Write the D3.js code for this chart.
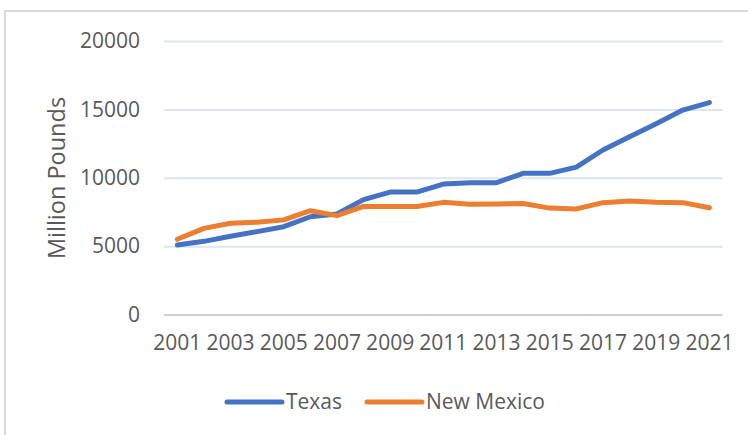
<!DOCTYPE html>
<html>
<head>
<meta charset="utf-8">
<script src="https://cdn.jsdelivr.net/npm/d3@7"></script>
<style>
  body { margin: 0; background: #fff; }
  svg { display: block; font-family: "Open Sans", sans-serif; }
</style>
</head>
<body>
<svg id="chart"></svg>
<script>
// Years on the category axis
const years = d3.range(2001, 2022);
// Tick labels shown (every other year)
const xTickYears = years.filter(y => y % 2 === 1);
const yTicks = [0, 5000, 10000, 15000, 20000];

// Series values (million pounds)
const texas = [5080, 5350, 5720, 6060, 6420, 7150, 7350, 8400, 8950, 8950, 9540,
               9640, 9640, 10320, 10320, 10780, 12030, 13000, 13950, 14950, 15500];
const newMexico = [5500, 6300, 6670, 6750, 6920, 7590, 7230, 7900, 7900, 7900, 8200,
                   8070, 8080, 8120, 7780, 7720, 8180, 8300, 8200, 8180, 7810];

const seriesNames = ["Texas", "New Mexico"];
const seriesColors = ["#4472C4", "#ED7D31"];

const width = 748, height = 435;
const plot = { left: 164, right: 722.7, top: 41, bottom: 314.5 };

const svg = d3.select("#chart")
    .attr("width", width)
    .attr("height", height);

// Chart area frame (only top and left edges show in the picture)
svg.append("path")
    .attr("d", `M5,${height + 5} L5,11 L${width + 5},11`)
    .attr("fill", "none")
    .attr("stroke", "#d9d9d9")
    .attr("stroke-width", 2);

const x = d3.scaleBand()
    .domain(years)
    .range([plot.left, plot.right]);
const xc = d => x(d) + x.bandwidth() / 2;

const y = d3.scaleLinear()
    .domain([0, 20000])
    .range([plot.bottom, plot.top]);

// Gridlines
const grid = svg.append("g")
    .attr("transform", `translate(${plot.left},0)`)
    .call(d3.axisLeft(y).tickValues(yTicks).tickSize(-(plot.right - plot.left)).tickFormat(""));
grid.select(".domain").remove();
grid.selectAll(".tick line")
    .attr("stroke", d => d === 0 ? "#d0d0d0" : "#dde5f2")
    .attr("stroke-width", 2);

// Y tick labels
const yAxis = svg.append("g")
    .attr("transform", `translate(140,0)`)
    .call(d3.axisLeft(y).tickValues(yTicks).tickSize(0).tickPadding(0).tickFormat(d3.format("d")));
yAxis.select(".domain").remove();
yAxis.selectAll("text")
    .attr("fill", "#595959")
    .style("font-size", "21px")
    .style("font-family", "'Open Sans', sans-serif");

// X tick labels
const xAxis = svg.append("g")
    .attr("transform", `translate(0,${plot.bottom})`)
    .call(d3.axisBottom(x).tickValues(xTickYears).tickSize(0).tickPadding(21));
xAxis.select(".domain").remove();
xAxis.selectAll("text")
    .attr("fill", "#595959")
    .style("font-size", "21px")
    .style("font-family", "'Open Sans', sans-serif");

// Y axis title
svg.append("text")
    .attr("transform", "translate(57,178) rotate(-90)")
    .attr("text-anchor", "middle")
    .attr("dy", "0.35em")
    .attr("fill", "#595959")
    .style("font-size", "23.5px")
    .text("Million Pounds");

// Lines
const line = d3.line()
    .x((d, i) => xc(years[i]))
    .y(d => y(d));

[texas, newMexico].forEach((vals, i) => {
    svg.append("path")
        .datum(vals)
        .attr("d", line)
        .attr("fill", "none")
        .attr("stroke", seriesColors[i])
        .attr("stroke-width", 5)
        .attr("stroke-linejoin", "round")
        .attr("stroke-linecap", "round");
});

// Legend
const legendX = [227, 367];
const legend = svg.append("g");
seriesNames.forEach((name, i) => {
    const g = legend.append("g").attr("transform", `translate(${legendX[i]},402)`);
    g.append("line")
        .attr("x1", 0).attr("x2", 55)
        .attr("stroke", seriesColors[i])
        .attr("stroke-width", 5)
        .attr("stroke-linecap", "round");
    g.append("text")
        .attr("x", 59)
        .attr("dy", "0.35em")
        .attr("fill", "#595959")
        .style("font-size", "21px")
        .text(name);
});
</script>
</body>
</html>
